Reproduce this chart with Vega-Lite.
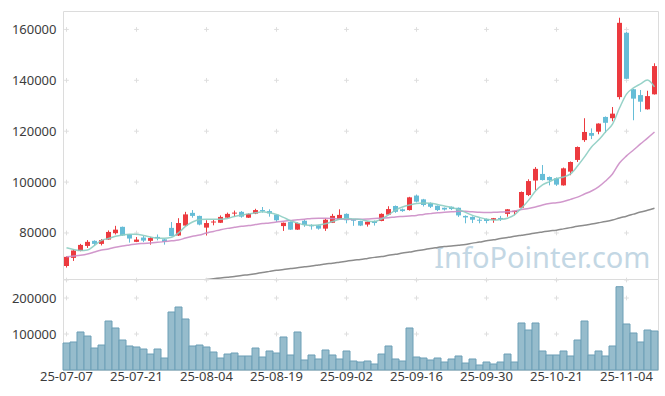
{
"$schema":"https://vega.github.io/schema/vega-lite/v6.json",
"background":"white",
"padding":{"left":10,"top":10,"right":9,"bottom":4},
"spacing":0,
"bounds":"flush",
"config":{"view":{"stroke":"#dcdcdc","strokeWidth":1},"axis":{"labelFont":"Noto Sans","labelFontSize":13,"labelColor":"#3c3c3c","domain":false,"ticks":false,"grid":false,"labelPadding":7}},
"resolve":{"scale":{"y":"independent"}},
"datasets":{
"prices":[
{"date":"25-07-07","open":67000,"high":70800,"low":66400,"close":70600,"volume":75000,"ma5":74200,"ma20":70600,"ma60":55200},
{"date":"25-07-08","open":70200,"high":73500,"low":69000,"close":73100,"volume":77800,"ma5":73500,"ma20":70900,"ma60":55600},
{"date":"25-07-09","open":72900,"high":75700,"low":72800,"close":75300,"volume":105600,"ma5":73100,"ma20":71200,"ma60":55900},
{"date":"25-07-10","open":74900,"high":77200,"low":74100,"close":76500,"volume":94400,"ma5":73300,"ma20":71700,"ma60":56200},
{"date":"25-07-11","open":76900,"high":77100,"low":74900,"close":75700,"volume":61100,"ma5":75100,"ma20":72500,"ma60":56500},
{"date":"25-07-14","open":75700,"high":77600,"low":75100,"close":77200,"volume":69400,"ma5":77100,"ma20":73300,"ma60":56900},
{"date":"25-07-15","open":77400,"high":81000,"low":77300,"close":80400,"volume":136100,"ma5":77800,"ma20":73700,"ma60":57200},
{"date":"25-07-16","open":79900,"high":82800,"low":79400,"close":81300,"volume":116700,"ma5":78700,"ma20":74400,"ma60":57500},
{"date":"25-07-17","open":82400,"high":82500,"low":78900,"close":79000,"volume":83300,"ma5":79200,"ma20":74900,"ma60":57800},
{"date":"25-07-18","open":79500,"high":79600,"low":76200,"close":77800,"volume":66700,"ma5":79500,"ma20":75300,"ma60":58100},
{"date":"25-07-21","open":76500,"high":78400,"low":76400,"close":77400,"volume":63900,"ma5":79500,"ma20":75700,"ma60":58500},
{"date":"25-07-22","open":78200,"high":78800,"low":76400,"close":77000,"volume":58300,"ma5":79000,"ma20":75900,"ma60":58800},
{"date":"25-07-23","open":76900,"high":78400,"low":75400,"close":78000,"volume":44400,"ma5":78400,"ma20":76100,"ma60":59100},
{"date":"25-07-24","open":78450,"high":79400,"low":77100,"close":78000,"volume":58300,"ma5":77900,"ma20":76300,"ma60":59400},
{"date":"25-07-25","open":77500,"high":77600,"low":75400,"close":76500,"volume":33300,"ma5":77900,"ma20":76600,"ma60":59800},
{"date":"25-07-28","open":82000,"high":84300,"low":78700,"close":78800,"volume":161100,"ma5":78300,"ma20":76900,"ma60":60100},
{"date":"25-07-29","open":79000,"high":85800,"low":78800,"close":83900,"volume":175000,"ma5":80000,"ma20":77200,"ma60":60400},
{"date":"25-07-30","open":82900,"high":88300,"low":82700,"close":87300,"volume":141700,"ma5":82600,"ma20":78000,"ma60":60700},
{"date":"25-07-31","open":87900,"high":89000,"low":86000,"close":86700,"volume":66700,"ma5":84300,"ma20":78700,"ma60":61100},
{"date":"25-08-01","open":86700,"high":86800,"low":83000,"close":83300,"volume":69400,"ma5":85300,"ma20":79200,"ma60":61400},
{"date":"25-08-04","open":82100,"high":85000,"low":79000,"close":83900,"volume":63900,"ma5":85400,"ma20":80000,"ma60":61700},
{"date":"25-08-05","open":84100,"high":85100,"low":83000,"close":84500,"volume":50000,"ma5":85400,"ma20":80600,"ma60":62000},
{"date":"25-08-06","open":84000,"high":86900,"low":83900,"close":86300,"volume":33300,"ma5":85400,"ma20":81300,"ma60":62300},
{"date":"25-08-07","open":86000,"high":88000,"low":85900,"close":87500,"volume":44400,"ma5":85700,"ma20":81800,"ma60":62600},
{"date":"25-08-08","open":87600,"high":88800,"low":86400,"close":88000,"volume":47200,"ma5":86500,"ma20":82200,"ma60":62900},
{"date":"25-08-11","open":88300,"high":88600,"low":86000,"close":86400,"volume":38900,"ma5":87000,"ma20":82600,"ma60":63300},
{"date":"25-08-12","open":86000,"high":87700,"low":85900,"close":87500,"volume":38900,"ma5":87500,"ma20":82900,"ma60":63600},
{"date":"25-08-13","open":87600,"high":89500,"low":87400,"close":89000,"volume":61100,"ma5":87900,"ma20":83300,"ma60":64000},
{"date":"25-08-14","open":89000,"high":90200,"low":88000,"close":88550,"volume":36100,"ma5":88300,"ma20":83700,"ma60":64500},
{"date":"25-08-18","open":88600,"high":89300,"low":86400,"close":87700,"volume":52800,"ma5":87900,"ma20":83900,"ma60":64900},
{"date":"25-08-19","open":87200,"high":87300,"low":84300,"close":85000,"volume":47200,"ma5":87300,"ma20":84300,"ma60":65300},
{"date":"25-08-20","open":82700,"high":84100,"low":80800,"close":84000,"volume":91700,"ma5":86100,"ma20":84600,"ma60":65600},
{"date":"25-08-21","open":84300,"high":84500,"low":81200,"close":81300,"volume":41700,"ma5":84800,"ma20":84900,"ma60":66000},
{"date":"25-08-22","open":81300,"high":84100,"low":81200,"close":83900,"volume":105600,"ma5":83900,"ma20":85200,"ma60":66300},
{"date":"25-08-25","open":84800,"high":85300,"low":82400,"close":83100,"volume":27800,"ma5":83200,"ma20":85400,"ma60":66700},
{"date":"25-08-26","open":83100,"high":83400,"low":81300,"close":82600,"volume":41700,"ma5":83000,"ma20":85700,"ma60":67000},
{"date":"25-08-27","open":83000,"high":83200,"low":81300,"close":81700,"volume":30600,"ma5":83100,"ma20":85800,"ma60":67400},
{"date":"25-08-28","open":81700,"high":85700,"low":80800,"close":85200,"volume":55600,"ma5":83600,"ma20":85800,"ma60":67800},
{"date":"25-08-29","open":84000,"high":87500,"low":83900,"close":86700,"volume":41700,"ma5":84500,"ma20":85700,"ma60":68100},
{"date":"25-09-01","open":85400,"high":89300,"low":85300,"close":87100,"volume":30600,"ma5":85400,"ma20":85500,"ma60":68500},
{"date":"25-09-02","open":87500,"high":87700,"low":83800,"close":85000,"volume":52800,"ma5":85700,"ma20":85400,"ma60":68900},
{"date":"25-09-03","open":85400,"high":85500,"low":82800,"close":84800,"volume":25000,"ma5":85500,"ma20":85300,"ma60":69300},
{"date":"25-09-04","open":84700,"high":84800,"low":82700,"close":82900,"volume":22200,"ma5":85300,"ma20":85400,"ma60":69600},
{"date":"25-09-05","open":83300,"high":84500,"low":82500,"close":84400,"volume":25000,"ma5":84700,"ma20":85500,"ma60":70000},
{"date":"25-09-08","open":84700,"high":84900,"low":82900,"close":83900,"volume":16700,"ma5":84500,"ma20":85700,"ma60":70400},
{"date":"25-09-09","open":84700,"high":87700,"low":84600,"close":87500,"volume":44400,"ma5":85500,"ma20":85800,"ma60":70700},
{"date":"25-09-10","open":87200,"high":90500,"low":87100,"close":89400,"volume":66700,"ma5":87100,"ma20":86000,"ma60":71200},
{"date":"25-09-11","open":90600,"high":90800,"low":87900,"close":88300,"volume":30600,"ma5":89000,"ma20":86300,"ma60":71600},
{"date":"25-09-12","open":89300,"high":89600,"low":88300,"close":88600,"volume":25000,"ma5":90200,"ma20":86500,"ma60":72100},
{"date":"25-09-15","open":89000,"high":94200,"low":88800,"close":94000,"volume":116700,"ma5":91000,"ma20":86700,"ma60":72500},
{"date":"25-09-16","open":94700,"high":95100,"low":92000,"close":92300,"volume":36100,"ma5":91600,"ma20":86900,"ma60":73000},
{"date":"25-09-17","open":93200,"high":93400,"low":90400,"close":91000,"volume":33300,"ma5":91800,"ma20":87300,"ma60":73400},
{"date":"25-09-18","open":91800,"high":92000,"low":89800,"close":90300,"volume":27800,"ma5":91700,"ma20":87600,"ma60":73900},
{"date":"25-09-19","open":90700,"high":90800,"low":88600,"close":89000,"volume":33300,"ma5":91200,"ma20":87900,"ma60":74300},
{"date":"25-09-22","open":89900,"high":90000,"low":88800,"close":89200,"volume":22200,"ma5":90600,"ma20":88100,"ma60":74700},
{"date":"25-09-23","open":90300,"high":90400,"low":89000,"close":89400,"volume":30600,"ma5":90000,"ma20":88300,"ma60":74900},
{"date":"25-09-24","open":89900,"high":90000,"low":86300,"close":86900,"volume":38900,"ma5":89200,"ma20":88500,"ma60":75200},
{"date":"25-09-25","open":86700,"high":86900,"low":83800,"close":86100,"volume":19400,"ma5":88100,"ma20":88500,"ma60":75500},
{"date":"25-09-26","open":86300,"high":86500,"low":83900,"close":85200,"volume":30600,"ma5":86900,"ma20":88300,"ma60":76000},
{"date":"25-09-29","open":85200,"high":85800,"low":83800,"close":84800,"volume":13900,"ma5":86100,"ma20":88100,"ma60":76400},
{"date":"25-09-30","open":85500,"high":85700,"low":83800,"close":84700,"volume":22200,"ma5":85400,"ma20":88000,"ma60":76900},
{"date":"25-10-01","open":85100,"high":85900,"low":84000,"close":85800,"volume":16700,"ma5":85100,"ma20":88100,"ma60":77300},
{"date":"25-10-02","open":85900,"high":86700,"low":84700,"close":85500,"volume":22200,"ma5":85300,"ma20":88200,"ma60":77800},
{"date":"25-10-10","open":87500,"high":89400,"low":86400,"close":89300,"volume":44400,"ma5":85800,"ma20":88300,"ma60":78200},
{"date":"25-10-13","open":88200,"high":88700,"low":87000,"close":88700,"volume":22200,"ma5":87100,"ma20":88600,"ma60":78700},
{"date":"25-10-14","open":89900,"high":96300,"low":89800,"close":96100,"volume":130600,"ma5":89800,"ma20":89200,"ma60":79100},
{"date":"25-10-15","open":94900,"high":101100,"low":94500,"close":100400,"volume":111100,"ma5":92800,"ma20":89600,"ma60":79500},
{"date":"25-10-16","open":100600,"high":105900,"low":96800,"close":105200,"volume":130600,"ma5":96500,"ma20":90200,"ma60":80000},
{"date":"25-10-17","open":103200,"high":106700,"low":100600,"close":100800,"volume":52800,"ma5":98900,"ma20":91000,"ma60":80400},
{"date":"25-10-20","open":102000,"high":102200,"low":98700,"close":100700,"volume":41700,"ma5":100200,"ma20":91600,"ma60":80800},
{"date":"25-10-21","open":101500,"high":101800,"low":98500,"close":99000,"volume":41700,"ma5":101400,"ma20":91900,"ma60":81100},
{"date":"25-10-22","open":98700,"high":105700,"low":98600,"close":105400,"volume":52800,"ma5":102000,"ma20":92400,"ma60":81600},
{"date":"25-10-23","open":104100,"high":108100,"low":102700,"close":107900,"volume":38900,"ma5":103200,"ma20":93200,"ma60":82100},
{"date":"25-10-24","open":108700,"high":114000,"low":107900,"close":113800,"volume":83300,"ma5":106300,"ma20":94100,"ma60":82600},
{"date":"25-10-27","open":116500,"high":125100,"low":115800,"close":119700,"volume":136100,"ma5":109900,"ma20":95300,"ma60":83000},
{"date":"25-10-28","open":119300,"high":121100,"low":116900,"close":118200,"volume":41700,"ma5":113800,"ma20":96500,"ma60":83500},
{"date":"25-10-29","open":119800,"high":123100,"low":118800,"close":123000,"volume":52800,"ma5":116500,"ma20":98100,"ma60":84000},
{"date":"25-10-30","open":125600,"high":125800,"low":119400,"close":123300,"volume":38900,"ma5":119700,"ma20":100400,"ma60":84500},
{"date":"25-10-31","open":125100,"high":129500,"low":123900,"close":126900,"volume":66700,"ma5":122800,"ma20":103200,"ma60":85100},
{"date":"25-11-03","open":133400,"high":164600,"low":132500,"close":162600,"volume":231400,"ma5":129100,"ma20":107500,"ma60":85900},
{"date":"25-11-04","open":158700,"high":159000,"low":140500,"close":140600,"volume":127800,"ma5":134600,"ma20":110300,"ma60":86600},
{"date":"25-11-05","open":136500,"high":136600,"low":124300,"close":132800,"volume":102800,"ma5":137000,"ma20":112600,"ma60":87400},
{"date":"25-11-06","open":134200,"high":136200,"low":127600,"close":131600,"volume":77800,"ma5":138600,"ma20":115000,"ma60":88200},
{"date":"25-11-07","open":128600,"high":135900,"low":128500,"close":133800,"volume":111100,"ma5":140100,"ma20":117300,"ma60":88900},
{"date":"25-11-10","open":134500,"high":146700,"low":134400,"close":145600,"volume":108300,"ma5":137400,"ma20":119700,"ma60":89700}
],
"gridTop":[
{"date":"25-07-07","price":80000},{"date":"25-07-07","price":100000},{"date":"25-07-07","price":120000},{"date":"25-07-07","price":140000},{"date":"25-07-07","price":160000},
{"date":"25-07-21","price":80000},{"date":"25-07-21","price":100000},{"date":"25-07-21","price":120000},{"date":"25-07-21","price":140000},{"date":"25-07-21","price":160000},
{"date":"25-08-04","price":80000},{"date":"25-08-04","price":100000},{"date":"25-08-04","price":120000},{"date":"25-08-04","price":140000},{"date":"25-08-04","price":160000},
{"date":"25-08-19","price":80000},{"date":"25-08-19","price":100000},{"date":"25-08-19","price":120000},{"date":"25-08-19","price":140000},{"date":"25-08-19","price":160000},
{"date":"25-09-02","price":80000},{"date":"25-09-02","price":100000},{"date":"25-09-02","price":120000},{"date":"25-09-02","price":140000},{"date":"25-09-02","price":160000},
{"date":"25-09-16","price":80000},{"date":"25-09-16","price":100000},{"date":"25-09-16","price":120000},{"date":"25-09-16","price":140000},{"date":"25-09-16","price":160000},
{"date":"25-09-30","price":80000},{"date":"25-09-30","price":100000},{"date":"25-09-30","price":120000},{"date":"25-09-30","price":140000},{"date":"25-09-30","price":160000},
{"date":"25-10-21","price":80000},{"date":"25-10-21","price":100000},{"date":"25-10-21","price":120000},{"date":"25-10-21","price":140000},{"date":"25-10-21","price":160000},
{"date":"25-11-04","price":80000},{"date":"25-11-04","price":100000},{"date":"25-11-04","price":120000},{"date":"25-11-04","price":140000},{"date":"25-11-04","price":160000}
],
"gridVol":[
{"date":"25-07-07","volume":100000},{"date":"25-07-07","volume":200000},{"date":"25-07-07","volume":250000},
{"date":"25-07-21","volume":100000},{"date":"25-07-21","volume":200000},{"date":"25-07-21","volume":250000},
{"date":"25-08-04","volume":100000},{"date":"25-08-04","volume":200000},{"date":"25-08-04","volume":250000},
{"date":"25-08-19","volume":100000},{"date":"25-08-19","volume":200000},{"date":"25-08-19","volume":250000},
{"date":"25-09-02","volume":100000},{"date":"25-09-02","volume":200000},{"date":"25-09-02","volume":250000},
{"date":"25-09-16","volume":100000},{"date":"25-09-16","volume":200000},{"date":"25-09-16","volume":250000},
{"date":"25-09-30","volume":100000},{"date":"25-09-30","volume":200000},{"date":"25-09-30","volume":250000},
{"date":"25-10-21","volume":100000},{"date":"25-10-21","volume":200000},{"date":"25-10-21","volume":250000},
{"date":"25-11-04","volume":100000},{"date":"25-11-04","volume":200000},{"date":"25-11-04","volume":250000}
]
},
"vconcat":[
{
"width":595,"height":268,
"layer":[
{"data":{"name":"gridTop"},"mark":{"type":"point","shape":"M-1,0H1M0,-1V1","filled":false,"stroke":"#dedede","strokeWidth":1,"size":22,"opacity":1},
 "encoding":{"x":{"field":"date","type":"ordinal","scale":{"type":"band","paddingInner":0,"paddingOuter":0},"axis":null},
  "y":{"field":"price","type":"quantitative","scale":{"domain":[61900,167250],"nice":false,"zero":false},"axis":{"values":[80000,100000,120000,140000,160000],"format":"d","title":null}}}},
{"data":{"values":[{"label":"InfoPointer.com"}]},"mark":{"type":"text","align":"right","baseline":"alphabetic","font":"Noto Sans","fontSize":29,"color":"#c3d7e4","dx":-4},
 "encoding":{"x":{"datum":"25-11-10","type":"ordinal","scale":{"type":"band","paddingInner":0,"paddingOuter":0},"axis":null},
  "y":{"datum":66400,"type":"quantitative","scale":{"domain":[61900,167250],"nice":false,"zero":false},"axis":{"values":[80000,100000,120000,140000,160000],"format":"d","title":null}},
  "text":{"field":"label"}}},
{"data":{"name":"prices"},"mark":{"type":"line","clip":true,"color":"#8c8c8c","strokeWidth":1.5,"interpolate":"monotone"},
 "encoding":{"x":{"field":"date","type":"ordinal","scale":{"type":"band","paddingInner":0,"paddingOuter":0},"axis":null},
  "y":{"field":"ma60","type":"quantitative","scale":{"domain":[61900,167250],"nice":false,"zero":false},"axis":{"values":[80000,100000,120000,140000,160000],"format":"d","title":null}}}},
{"data":{"name":"prices"},"mark":{"type":"rule","strokeWidth":1},
 "encoding":{"x":{"field":"date","type":"ordinal","scale":{"type":"band","paddingInner":0,"paddingOuter":0},"axis":null},
  "y":{"field":"low","type":"quantitative","scale":{"domain":[61900,167250],"nice":false,"zero":false},"axis":{"values":[80000,100000,120000,140000,160000],"format":"d","title":null}},
  "y2":{"field":"high"},
  "color":{"condition":{"test":"datum.close >= datum.open","value":"#ec3a3f"},"value":"#66bdd7"}}},
{"data":{"name":"prices"},"mark":{"type":"bar","size":5},
 "encoding":{"x":{"field":"date","type":"ordinal","scale":{"type":"band","paddingInner":0,"paddingOuter":0},"axis":null},
  "y":{"field":"open","type":"quantitative","scale":{"domain":[61900,167250],"nice":false,"zero":false},"axis":{"values":[80000,100000,120000,140000,160000],"format":"d","title":null}},
  "y2":{"field":"close"},
  "color":{"condition":{"test":"datum.close >= datum.open","value":"#ec3a3f"},"value":"#66bdd7"}}},
{"data":{"name":"prices"},"mark":{"type":"line","color":"#cc8dc6","strokeWidth":1.5,"interpolate":"monotone","opacity":0.9},
 "encoding":{"x":{"field":"date","type":"ordinal","scale":{"type":"band","paddingInner":0,"paddingOuter":0},"axis":null},
  "y":{"field":"ma20","type":"quantitative","scale":{"domain":[61900,167250],"nice":false,"zero":false},"axis":{"values":[80000,100000,120000,140000,160000],"format":"d","title":null}}}},
{"data":{"name":"prices"},"mark":{"type":"line","color":"#8ccdc2","strokeWidth":1.5,"interpolate":"monotone","opacity":0.9},
 "encoding":{"x":{"field":"date","type":"ordinal","scale":{"type":"band","paddingInner":0,"paddingOuter":0},"axis":null},
  "y":{"field":"ma5","type":"quantitative","scale":{"domain":[61900,167250],"nice":false,"zero":false},"axis":{"values":[80000,100000,120000,140000,160000],"format":"d","title":null}}}}
]
},
{
"width":595,"height":91,
"layer":[
{"data":{"name":"gridVol"},"mark":{"type":"point","shape":"M-1,0H1M0,-1V1","filled":false,"stroke":"#dedede","strokeWidth":1,"size":22,"opacity":1},
 "encoding":{"x":{"field":"date","type":"ordinal","scale":{"type":"band","paddingInner":0,"paddingOuter":0},"axis":{"values":["25-07-07","25-07-21","25-08-04","25-08-19","25-09-02","25-09-16","25-09-30","25-10-21","25-11-04"],"title":null,"labelAngle":0,"labelPadding":0}},
  "y":{"field":"volume","type":"quantitative","scale":{"domain":[0,252800],"nice":false},"axis":{"values":[100000,200000],"format":"d","title":null}}}},
{"data":{"name":"prices"},"mark":{"type":"bar","fill":"#96bccc","stroke":"#6c9fb6","strokeWidth":1},
 "encoding":{"x":{"field":"date","type":"ordinal","scale":{"type":"band","paddingInner":0,"paddingOuter":0},"axis":{"values":["25-07-07","25-07-21","25-08-04","25-08-19","25-09-02","25-09-16","25-09-30","25-10-21","25-11-04"],"title":null,"labelAngle":0,"labelPadding":0}},
  "y":{"field":"volume","type":"quantitative","scale":{"domain":[0,252800],"nice":false},"axis":{"values":[100000,200000],"format":"d","title":null}}}}
]
}
]
}
